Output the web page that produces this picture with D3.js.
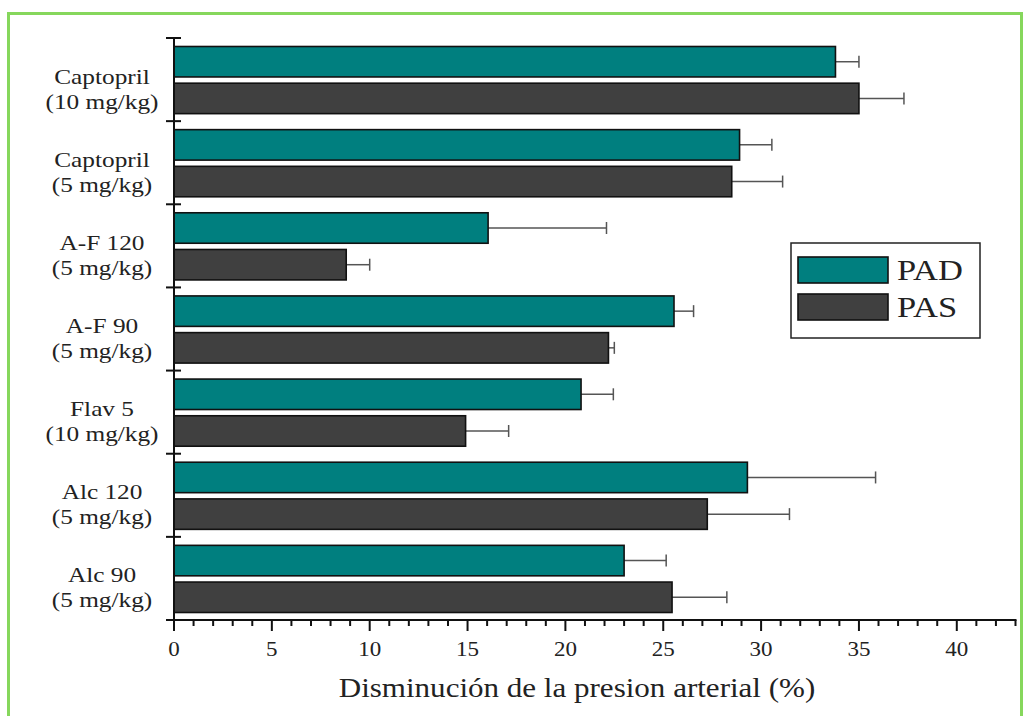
<!DOCTYPE html>
<html>
<head>
<meta charset="utf-8">
<script src="https://cdn.jsdelivr.net/npm/d3@7"></script>
<style>
  html, body { margin: 0; padding: 0; background: #fff; }
  svg { display: block; }
  text { font-family: "Liberation Serif", "Times New Roman", serif; fill: #222; }
</style>
</head>
<body>
<svg id="chart" width="1028" height="716"></svg>
<script>
// Treatment groups (two-line labels)
const categoryNames = ["Captopril", "Captopril", "A-F 120", "A-F 90", "Flav 5", "Alc 120", "Alc 90"];
const categoryDoses = ["(10 mg/kg)", "(5 mg/kg)", "(5 mg/kg)", "(5 mg/kg)", "(10 mg/kg)", "(5 mg/kg)", "(5 mg/kg)"];

// Decrease in blood pressure (%) with error (+)
const seriesNames = ["PAD", "PAS"];
const padValues = [33.8, 28.9, 16.05, 25.55, 20.8, 29.3, 23.0];
const padErrors = [1.2, 1.65, 6.05, 1.0, 1.65, 6.55, 2.15];
const pasValues = [35.0, 28.5, 8.8, 22.2, 14.9, 27.25, 25.45];
const pasErrors = [2.3, 2.6, 1.2, 0.3, 2.2, 4.2, 2.8];

const xMajorTicks = [0, 5, 10, 15, 20, 25, 30, 35, 40];
const xTitle = "Disminución de la presion arterial (%)";

const colors = { PAD: "#007f7f", PAS: "#404040" };
const stretch = 1.15; // horizontal widening of the lettering

const svg = d3.select("#chart");

// light green frame
svg.append("rect")
  .attr("x", 8.5).attr("y", 13.5)
  .attr("width", 1013).attr("height", 712)
  .attr("fill", "none")
  .attr("stroke", "#86d75c")
  .attr("stroke-width", 3);

const plot = { left: 174, right: 1015.5, top: 38, bottom: 620 };

const x = d3.scaleLinear().domain([0, 43]).range([plot.left, plot.right]);
const y = d3.scaleBand().domain(d3.range(categoryNames.length)).range([plot.top, plot.bottom]).padding(0);
const ySeries = d3.scaleBand().domain(seriesNames)
  .range([8.5, y.bandwidth() - 7.5]).paddingInner(0.17).paddingOuter(0);

const rows = categoryNames.map((name, i) => ({
  i,
  name,
  dose: categoryDoses[i],
  series: [
    { key: "PAD", value: padValues[i], err: padErrors[i] },
    { key: "PAS", value: pasValues[i], err: pasErrors[i] }
  ]
}));

const groups = svg.append("g").selectAll("g")
  .data(rows).join("g")
  .attr("transform", d => `translate(0,${y(d.i)})`);

// error bars (drawn first so the bar outline covers their start)
const eb = groups.selectAll("g.err").data(d => d.series).join("g").attr("class", "err");
eb.append("line")
  .attr("x1", d => x(d.value)).attr("x2", d => x(d.value + d.err))
  .attr("y1", d => ySeries(d.key) + ySeries.bandwidth() / 2)
  .attr("y2", d => ySeries(d.key) + ySeries.bandwidth() / 2)
  .attr("stroke", "#555").attr("stroke-width", 1.5);
eb.append("line")
  .attr("x1", d => x(d.value + d.err)).attr("x2", d => x(d.value + d.err))
  .attr("y1", d => ySeries(d.key) + ySeries.bandwidth() / 2 - 6)
  .attr("y2", d => ySeries(d.key) + ySeries.bandwidth() / 2 + 6)
  .attr("stroke", "#555").attr("stroke-width", 1.5);

// bars
groups.selectAll("rect.bar").data(d => d.series).join("rect")
  .attr("class", "bar")
  .attr("x", x(0))
  .attr("y", d => ySeries(d.key))
  .attr("width", d => x(d.value) - x(0))
  .attr("height", ySeries.bandwidth())
  .attr("fill", d => colors[d.key])
  .attr("stroke", "#111")
  .attr("stroke-width", 1.6);

// category labels
function stretchedText(sel, tx, ty, str, size, anchor) {
  return sel.append("text")
    .attr("transform", `translate(${tx},${ty}) scale(${stretch},1)`)
    .attr("text-anchor", anchor || "middle")
    .attr("font-size", size)
    .text(str);
}
const yc = d => y(d.i) + y.bandwidth() / 2;
groups.each(function (d) {
  const g = d3.select(this);
  const c = y.bandwidth() / 2;
  stretchedText(g, 102, c + 4, d.name, 22);
  stretchedText(g, 102, c + 29, d.dose, 22);
});

// y axis: spine with ticks at group boundaries
const yAxisG = svg.append("g");
yAxisG.append("line")
  .attr("x1", plot.left).attr("x2", plot.left)
  .attr("y1", plot.top).attr("y2", plot.bottom)
  .attr("stroke", "#111").attr("stroke-width", 2);
yAxisG.selectAll("line.yt")
  .data(d3.range(categoryNames.length + 1))
  .join("line").attr("class", "yt")
  .attr("x1", plot.left - 8).attr("x2", plot.left + 7)
  .attr("y1", i => plot.top + i * y.step())
  .attr("y2", i => plot.top + i * y.step())
  .attr("stroke", "#111").attr("stroke-width", 2);

// x axis
const xAxisG = svg.append("g").attr("transform", `translate(0,${plot.bottom})`);
xAxisG.append("line")
  .attr("x1", plot.left - 1).attr("x2", plot.right + 1)
  .attr("y1", 0).attr("y2", 0)
  .attr("stroke", "#111").attr("stroke-width", 2);
xAxisG.selectAll("line.minor")
  .data(d3.range(0, 44, 1).filter(v => v % 5 !== 0))
  .join("line").attr("class", "minor")
  .attr("x1", d => x(d)).attr("x2", d => x(d))
  .attr("y1", 0).attr("y2", 6)
  .attr("stroke", "#111").attr("stroke-width", 2);
xAxisG.selectAll("line.major")
  .data(xMajorTicks)
  .join("line").attr("class", "major")
  .attr("x1", d => x(d)).attr("x2", d => x(d))
  .attr("y1", 0).attr("y2", 11)
  .attr("stroke", "#111").attr("stroke-width", 2);
xMajorTicks.forEach(v => stretchedText(xAxisG, x(v), 36, String(v), 20));

// axis title
stretchedText(svg, 577, 697, xTitle, 27);

// legend
const legend = svg.append("g");
legend.append("rect")
  .attr("x", 791).attr("y", 243).attr("width", 189).attr("height", 95)
  .attr("fill", "#fff").attr("stroke", "#222").attr("stroke-width", 1.5);
seriesNames.forEach((s, k) => {
  legend.append("rect")
    .attr("x", 798).attr("y", 257 + k * 37)
    .attr("width", 90).attr("height", 26)
    .attr("fill", colors[s]).attr("stroke", "#111").attr("stroke-width", 1.6);
  stretchedText(legend, 897, 280 + k * 37, s, 30, "start");
});
</script>
</body>
</html>
